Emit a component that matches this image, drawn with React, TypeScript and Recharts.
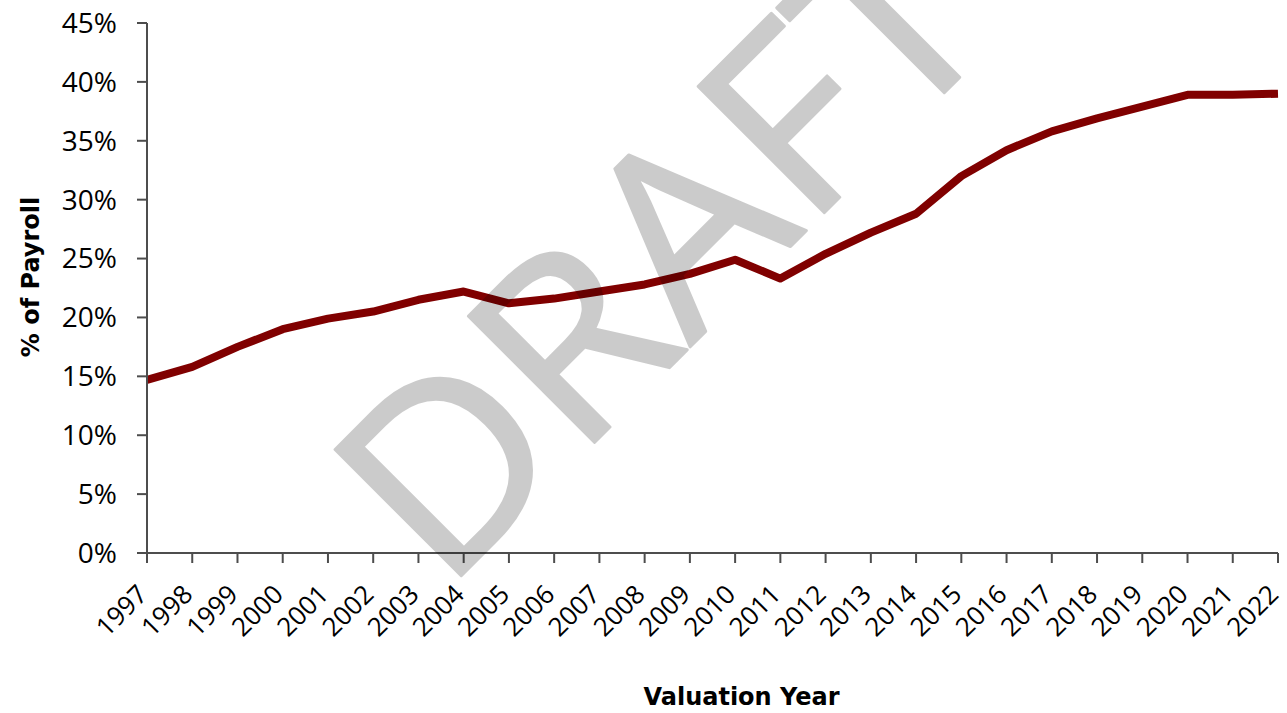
import { LineChart, Line, XAxis, YAxis } from 'recharts';

const years = [
  '1997', '1998', '1999', '2000', '2001', '2002', '2003', '2004', '2005',
  '2006', '2007', '2008', '2009', '2010', '2011', '2012', '2013', '2014',
  '2015', '2016', '2017', '2018', '2019', '2020', '2021', '2022',
];

// employer contribution, % of payroll
const payrollPct = [
  14.7, 15.8, 17.5, 19.0, 19.9, 20.5, 21.5, 22.2, 21.2,
  21.6, 22.2, 22.8, 23.7, 24.9, 23.3, 25.4, 27.2, 28.8,
  32.0, 34.2, 35.8, 36.9, 37.9, 38.9, 38.9, 39.0,
];

const yTicks = [0, 5, 10, 15, 20, 25, 30, 35, 40, 45];

const data = years.map((year, i) => ({ year, pct: payrollPct[i] }));

const AXIS = '#4d4d4d';
const TICK_FONT = "'Open Sans', sans-serif";
const TITLE_FONT = "'DejaVu Sans', Verdana, sans-serif";

function YearTick(props: any) {
  const { x, y, payload } = props;
  const tx = x + 2;
  const ty = y + 33;
  return (
    <text
      x={tx}
      y={ty}
      transform={`rotate(-45 ${tx} ${ty})`}
      textAnchor="end"
      fill="#000"
      fontSize={26}
      fontFamily={TICK_FONT}
    >
      {payload.value}
    </text>
  );
}

function XTitle(props: any) {
  const vb = props.viewBox || { x: 147, y: 553, width: 1131 };
  return (
    <text
      x={vb.x + vb.width / 2 + 29}
      y={vb.y + 152}
      textAnchor="middle"
      fontSize={24}
      fontWeight="bold"
      fontFamily={TITLE_FONT}
      fill="#000"
    >
      Valuation Year
    </text>
  );
}

function YTitle() {
  return (
    <text
      x={39}
      y={277}
      transform="rotate(-90 39 277)"
      textAnchor="middle"
      fontSize={24}
      fontWeight="bold"
      fontFamily={TITLE_FONT}
      fill="#000"
    >
      % of Payroll
    </text>
  );
}

export default function App() {
  return (
    <div style={{ position: 'relative', width: 1287, height: 713, background: '#fff' }}>
      <style>{'body{margin:0}'}</style>
      <LineChart
        width={1287}
        height={713}
        data={data}
        margin={{ top: 23, right: 9, bottom: 0, left: 0 }}
      >
        <XAxis
          dataKey="year"
          interval={0}
          height={160}
          tickSize={10}
          tickMargin={0}
          axisLine={{ stroke: AXIS, strokeWidth: 2 }}
          tickLine={{ stroke: AXIS, strokeWidth: 2 }}
          tick={<YearTick />}
          label={<XTitle />}
        />
        <YAxis
          type="number"
          domain={[0, 45]}
          ticks={yTicks}
          width={147}
          tickSize={10}
          tickMargin={20}
          tickFormatter={(v: number) => `${v}%`}
          axisLine={{ stroke: AXIS, strokeWidth: 2 }}
          tickLine={{ stroke: AXIS, strokeWidth: 2 }}
          tick={{ fill: '#000', fontSize: 28, fontFamily: TICK_FONT }}
          label={<YTitle />}
        />
        <Line
          type="linear"
          dataKey="pct"
          stroke="#800000"
          strokeWidth={8}
          strokeLinejoin="round"
          dot={false}
          activeDot={false}
          isAnimationActive={false}
        />
      </LineChart>
      <svg
        width={1287}
        height={713}
        style={{ position: 'absolute', left: 0, top: 0, pointerEvents: 'none' }}
      >
        <g opacity={0.2}>
          <text
            x={723}
            y={314}
            transform="rotate(-45 723 314)"
            textAnchor="middle"
            fontFamily={TICK_FONT}
            fontSize={250}
            fill="#000"
            stroke="#000"
            strokeWidth={3}
            strokeLinejoin="round"
            textLength={791}
            lengthAdjust="spacingAndGlyphs"
          >
            DRAFT
          </text>
        </g>
      </svg>
    </div>
  );
}
